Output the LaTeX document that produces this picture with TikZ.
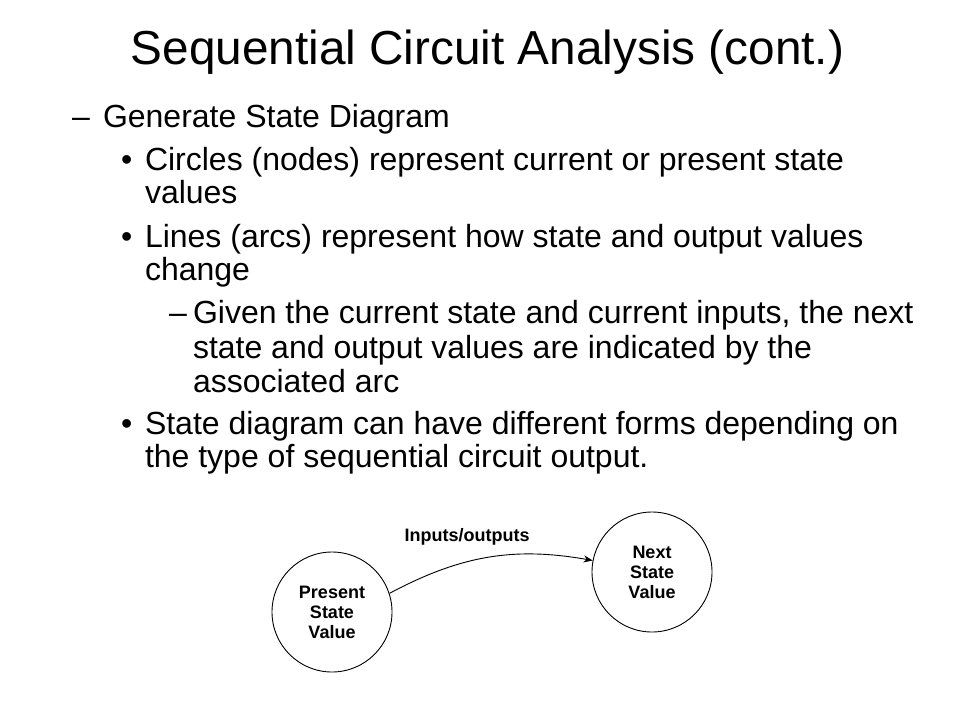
\documentclass[tikz,border=0pt]{standalone}
\usepackage{fontspec}
\setmainfont{Liberation Sans}
\usetikzlibrary{arrows.meta}
\begin{document}
\begin{tikzpicture}[x=1pt,y=-1pt,
  txt/.style={anchor=base west,inner sep=0pt,outer sep=0pt,font=\fontsize{32}{34}\selectfont},
  state/.style={circle,draw=black,line width=0.9pt,minimum size=120pt,inner sep=0pt,align=center,
    font=\fontsize{18}{20}\selectfont\bfseries},
  arc/.style={line width=0.9pt,-{Stealth[length=9pt,width=7pt]}}]
\useasboundingbox[fill=white] (0,0) rectangle (960,720);
\node[anchor=base,inner sep=0pt,font=\fontsize{47.7}{50}\selectfont] (title) at (487.5,64) {Sequential Circuit Analysis (cont.)};
\node[txt] (d1) at (72,127) {–};
\node[txt] (l1) at (103,127) {Generate State Diagram};
\node[txt] (b1) at (121,170) {•};
\node[txt] (l2) at (145,170) {Circles (nodes) represent current or present state};
\node[txt] (l3) at (145,203) {values};
\node[txt] (b2) at (121,247) {•};
\node[txt] (l4) at (145,247) {Lines (arcs) represent how state and output values};
\node[txt] (l5) at (145,280) {change};
\node[txt] (d2) at (169,323) {–};
\node[txt] (l6) at (193,323) {Given the current state and current inputs, the next};
\node[txt] (l7) at (193,358) {state and output values are indicated by the};
\node[txt] (l8) at (193,392) {associated arc};
\node[txt] (b3) at (121,434) {•};
\node[txt] (l9) at (145,434) {State diagram can have different forms depending on};
\node[txt] (l10) at (145,467) {the type of sequential circuit output.};
\node[state] (ps) at (332,612) {Present\\State\\Value};
\node[state] (ns) at (652,572) {Next\\State\\Value};
\node[anchor=base,inner sep=0pt,font=\fontsize{18}{20}\selectfont\bfseries] (lab) at (467,541) {Inputs/outputs};
\draw[arc] (ps.18) to[out=28,in=170] (ns.169);
\end{tikzpicture}
\end{document}
